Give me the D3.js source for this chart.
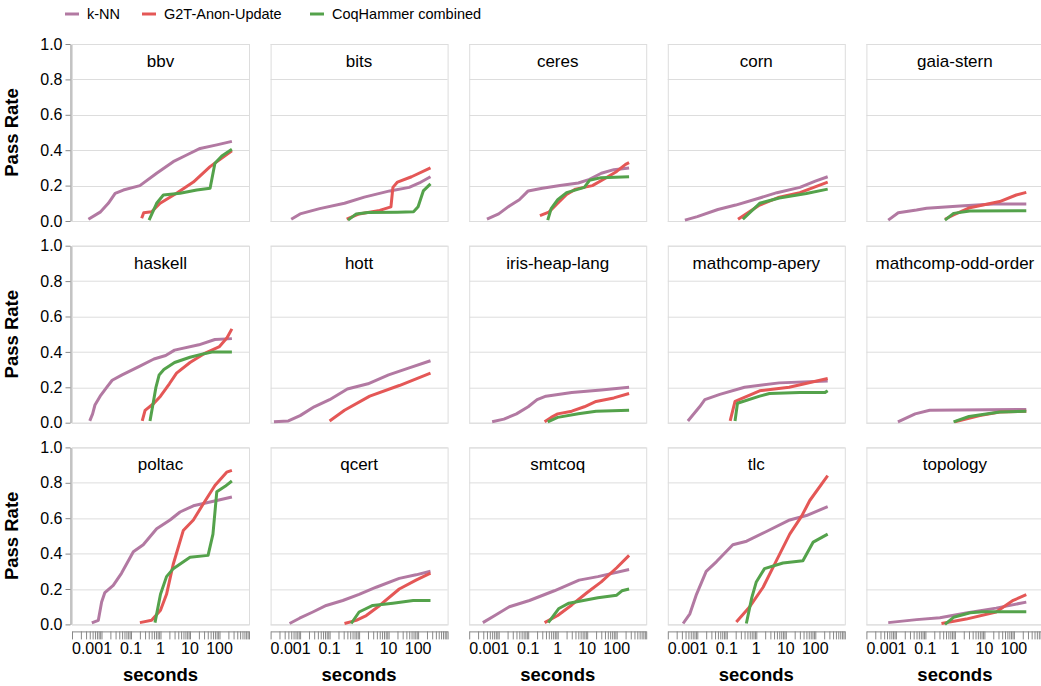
<!DOCTYPE html>
<html>
<head>
<meta charset="utf-8">
<script src="https://cdn.jsdelivr.net/npm/d3@7"></script>
<style>
  body { margin: 0; background: #fff; }
  svg { display: block; font-family: "Liberation Sans", Arial, Helvetica, sans-serif; }
</style>
</head>
<body>
<svg id="chart" width="1041" height="686"></svg>
<script>
// Projects, one small multiple each (row-major, 5 columns)
const projects = ["bbv", "bits", "ceres", "corn", "gaia-stern",
                  "haskell", "hott", "iris-heap-lang", "mathcomp-apery", "mathcomp-odd-order",
                  "poltac", "qcert", "smtcoq", "tlc", "topology"];

const seriesNames = ["k-NN", "G2T-Anon-Update", "CoqHammer combined"];
const seriesColors = ["#b279a2", "#e45756", "#54a24b"];

const yTickValues = [0, 0.2, 0.4, 0.6, 0.8, 1.0];
const xLabelValues = [0.001, 0.1, 1, 10, 100];
const xDomain = [0.001, 1000];

// Cumulative pass rate vs. time (seconds, rate), aligned with `projects`
const knnCurves = [
  [[0.0036,0.01],[0.009,0.05],[0.017,0.10],[0.029,0.156],[0.055,0.175],[0.2,0.20],[0.74,0.27],[2.7,0.335],[7.7,0.373],[22,0.41],[81,0.43],[263,0.45]],
  [[0.005,0.01],[0.01,0.04],[0.046,0.07],[0.32,0.10],[1.5,0.135],[11,0.17],[50,0.19],[110,0.215],[263,0.25]],
  [[0.004,0.01],[0.01,0.04],[0.023,0.085],[0.05,0.12],[0.1,0.17],[0.3,0.185],[1.2,0.2],[5,0.215],[12,0.235],[30,0.27],[80,0.29],[263,0.30]],
  [[0.0038,0.005],[0.01,0.025],[0.05,0.065],[0.2,0.09],[1.3,0.13],[5,0.16],[30,0.19],[100,0.225],[263,0.25]],
  [[0.0055,0.005],[0.012,0.047],[0.05,0.062],[0.11,0.072],[1.5,0.085],[20,0.096],[263,0.096]],
  [[0.004,0.01],[0.005,0.05],[0.006,0.1],[0.009,0.15],[0.015,0.2],[0.023,0.24],[0.05,0.27],[0.2,0.32],[0.6,0.36],[1.5,0.38],[3,0.41],[20,0.44],[70,0.47],[263,0.475]],
  [[0.0013,0.005],[0.004,0.01],[0.01,0.04],[0.03,0.09],[0.1,0.13],[0.4,0.19],[2,0.22],[10,0.27],[50,0.31],[263,0.35]],
  [[0.006,0.005],[0.015,0.02],[0.04,0.05],[0.1,0.09],[0.2,0.13],[0.4,0.15],[3,0.17],[30,0.185],[263,0.2]],
  [[0.0048,0.01],[0.012,0.09],[0.018,0.13],[0.058,0.16],[0.4,0.2],[6,0.225],[263,0.235]],
  [[0.0117,0.005],[0.045,0.05],[0.14,0.07],[263,0.075]],
  [[0.0047,0.008],[0.0078,0.023],[0.0101,0.126],[0.013,0.18],[0.025,0.22],[0.048,0.29],[0.12,0.41],[0.26,0.45],[0.74,0.54],[2.1,0.59],[4.6,0.635],[13,0.67],[81,0.70],[263,0.72]],
  [[0.0044,0.005],[0.0096,0.035],[0.027,0.07],[0.077,0.107],[0.28,0.135],[1.0,0.17],[3.8,0.21],[23,0.26],[85,0.28],[263,0.30]],
  [[0.0029,0.01],[0.0074,0.05],[0.023,0.1],[0.11,0.135],[0.77,0.19],[5.3,0.25],[23,0.27],[263,0.31]],
  [[0.0033,0.005],[0.0056,0.06],[0.0094,0.17],[0.02,0.3],[0.045,0.355],[0.16,0.45],[0.47,0.47],[2.2,0.525],[13.6,0.59],[50,0.615],[263,0.665]],
  [[0.0055,0.01],[0.05,0.027],[0.31,0.038],[2.4,0.064],[25,0.092],[263,0.126]]
];

const g2tCurves = [
  [[0.23,0.015],[0.27,0.047],[0.5,0.052],[0.97,0.10],[3.5,0.157],[13,0.22],[48,0.307],[263,0.397]],
  [[0.38,0.01],[1,0.04],[5,0.06],[12,0.08],[14,0.19],[20,0.22],[60,0.25],[263,0.30]],
  [[0.25,0.03],[0.5,0.05],[1,0.1],[2,0.15],[4,0.18],[15,0.2],[40,0.24],[100,0.28],[200,0.32],[263,0.33]],
  [[0.24,0.01],[1.3,0.09],[6,0.135],[30,0.16],[263,0.22]],
  [[0.46,0.01],[0.9,0.034],[3.2,0.075],[33,0.11],[120,0.147],[263,0.162]],
  [[0.24,0.01],[0.3,0.07],[0.6,0.11],[1,0.15],[2,0.22],[3.5,0.28],[10,0.34],[30,0.39],[100,0.43],[180,0.48],[263,0.53]],
  [[0.1,0.01],[0.32,0.07],[2.3,0.15],[23,0.21],[263,0.28]],
  [[0.36,0.005],[0.6,0.03],[1,0.05],[3,0.065],[8,0.09],[20,0.12],[80,0.14],[263,0.165]],
  [[0.13,0.01],[0.19,0.12],[1.3,0.18],[13,0.2],[263,0.25]],
  [[1.0,0.005],[7,0.04],[33,0.06],[263,0.065]],
  [[0.2,0.01],[0.5,0.023],[1,0.08],[1.6,0.17],[2.7,0.34],[5.9,0.53],[13,0.59],[28,0.68],[70,0.785],[175,0.86],[263,0.87]],
  [[0.32,0.005],[0.8,0.023],[1.75,0.05],[5,0.107],[23,0.2],[85,0.25],[263,0.29]],
  [[0.36,0.01],[1,0.05],[3,0.11],[10,0.18],[30,0.24],[100,0.32],[263,0.39]],
  [[0.21,0.013],[0.6,0.1],[1.7,0.21],[4.8,0.36],[13.6,0.51],[34,0.61],[65,0.70],[263,0.84]],
  [[0.35,0.005],[2.4,0.03],[25,0.07],[95,0.136],[263,0.168]]
];

const hammerCurves = [
  [[0.41,0.005],[0.74,0.10],[1.25,0.147],[4.6,0.157],[17,0.175],[48,0.185],[70,0.326],[120,0.367],[263,0.405]],
  [[0.42,0.005],[0.8,0.04],[2,0.048],[20,0.05],[70,0.052],[100,0.08],[150,0.17],[263,0.21]],
  [[0.46,0.005],[0.6,0.07],[1,0.12],[2,0.16],[8,0.19],[12,0.23],[30,0.245],[263,0.25]],
  [[0.35,0.01],[1.3,0.1],[6,0.13],[50,0.155],[263,0.18]],
  [[0.46,0.005],[0.9,0.043],[3.2,0.056],[263,0.058]],
  [[0.44,0.01],[0.55,0.1],[0.7,0.2],[0.9,0.27],[1.3,0.3],[3,0.34],[10,0.37],[30,0.39],[60,0.4],[263,0.4]],
  [],
  [[0.46,0.005],[1,0.03],[5,0.05],[20,0.065],[263,0.07]],
  [[0.19,0.01],[0.23,0.11],[1.3,0.15],[2.8,0.165],[30,0.17],[210,0.17],[263,0.18]],
  [[0.9,0.005],[3,0.035],[33,0.06],[263,0.065]],
  [[0.65,0.01],[1.0,0.17],[1.6,0.27],[2.7,0.315],[10,0.38],[41,0.39],[60,0.51],[81,0.75],[155,0.78],[263,0.81]],
  [[0.54,0.005],[1.0,0.07],[2.9,0.107],[14,0.12],[68,0.135],[263,0.135]],
  [[0.48,0.01],[1.1,0.09],[2.4,0.12],[23,0.15],[100,0.165],[150,0.19],[263,0.2]],
  [[0.46,0.005],[0.7,0.15],[1.0,0.24],[1.9,0.315],[8,0.347],[38,0.36],[85,0.465],[263,0.51]],
  [[0.46,0.0],[0.9,0.04],[3.3,0.066],[9,0.072],[263,0.072]]
];

const allCurves = [knnCurves, g2tCurves, hammerCurves];

// Layout
const nCols = 5;
const plotSize = 177;
const left0 = 72, top0 = 44;
const colStep = 198.6, rowStep = 201.7;
const axisColor = "#888", gridColor = "#ddd";

const svg = d3.select("#chart");

const x = d3.scaleLog().domain(xDomain).range([0, plotSize]);
const y = d3.scaleLinear().domain([0, 1]).range([plotSize, 0]);
const line = d3.line().x(d => x(d[0])).y(d => y(d[1]));

// Legend
const legend = svg.append("g").attr("class", "legend");
const legendX = [65, 142, 310];
seriesNames.forEach((name, i) => {
  const g = legend.append("g").attr("transform", `translate(${legendX[i]},14)`);
  g.append("line").attr("x1", 0).attr("x2", 14).attr("y1", 0).attr("y2", 0)
    .attr("stroke", seriesColors[i]).attr("stroke-width", 3);
  g.append("text").attr("x", 22).attr("y", 0).attr("dy", "0.35em")
    .attr("font-size", 14.5).attr("fill", "#000").text(name);
});

const nRows = Math.ceil(projects.length / nCols);

projects.forEach((proj, idx) => {
  const col = idx % nCols, row = Math.floor(idx / nCols);
  const px = left0 + col * colStep, py = top0 + row * rowStep;
  const g = svg.append("g").attr("transform", `translate(${px},${py})`);

  // horizontal grid
  g.append("g").selectAll("line").data(yTickValues).join("line")
    .attr("x1", 0).attr("x2", plotSize)
    .attr("y1", d => Math.round(y(d)) + 0.5).attr("y2", d => Math.round(y(d)) + 0.5)
    .attr("stroke", gridColor).attr("stroke-width", 1);

  // view frame
  g.append("rect").attr("x", 0.5).attr("y", 0.5)
    .attr("width", plotSize).attr("height", plotSize)
    .attr("fill", "none").attr("stroke", gridColor);

  // title inside the panel
  g.append("text").attr("x", plotSize / 2).attr("y", 23)
    .attr("text-anchor", "middle").attr("font-size", 17).attr("fill", "#000")
    .text(proj);

  // lines
  allCurves.forEach((curves, s) => {
    const pts = curves[idx];
    if (!pts || !pts.length) return;
    g.append("path").datum(pts)
      .attr("d", line)
      .attr("fill", "none")
      .attr("stroke", seriesColors[s])
      .attr("stroke-width", 3)
      .attr("stroke-linejoin", "round")
      .attr("stroke-linecap", "butt");
  });

  // y axis on the first column
  if (col === 0) {
    const ya = g.append("g").attr("transform", "translate(-1.5,0)")
      .call(d3.axisLeft(y).tickValues(yTickValues).tickFormat(d3.format(".1f"))
        .tickSize(5).tickSizeOuter(0).tickPadding(3));
    ya.select(".domain").attr("stroke", axisColor);
    ya.selectAll(".tick line").attr("stroke", axisColor);
    ya.selectAll(".tick text").attr("font-size", 16).attr("fill", "#000")
      .attr("font-family", null);
    g.append("text")
      .attr("transform", `translate(-54,${plotSize / 2}) rotate(-90)`)
      .attr("text-anchor", "middle").attr("font-size", 18.5).attr("font-weight", "bold")
      .attr("fill", "#000").text("Pass Rate");
  }

  // x axis on the bottom row
  if (row === nRows - 1) {
    const xa = g.append("g").attr("transform", `translate(0,${plotSize + 7})`)
      .call(d3.axisBottom(x).tickValues(x.ticks()).tickFormat("")
        .tickSize(8).tickSizeOuter(0));
    xa.select(".domain").attr("stroke", axisColor);
    xa.selectAll(".tick line").attr("stroke", axisColor);
    xa.selectAll(".tick text").remove();
    g.append("g").selectAll("text").data(xLabelValues).join("text")
      .attr("x", d => x(d))
      .attr("y", plotSize + 7 + 23)
      .attr("text-anchor", (d, i) => i === 0 ? "start" : "middle")
      .attr("font-size", 16).attr("fill", "#000")
      .text(d => d3.format("~g")(d));
    g.append("text").attr("x", plotSize / 2).attr("y", plotSize + 57)
      .attr("text-anchor", "middle").attr("font-size", 18.5).attr("font-weight", "bold")
      .attr("fill", "#000").text("seconds");
  }
});
</script>
</body>
</html>
